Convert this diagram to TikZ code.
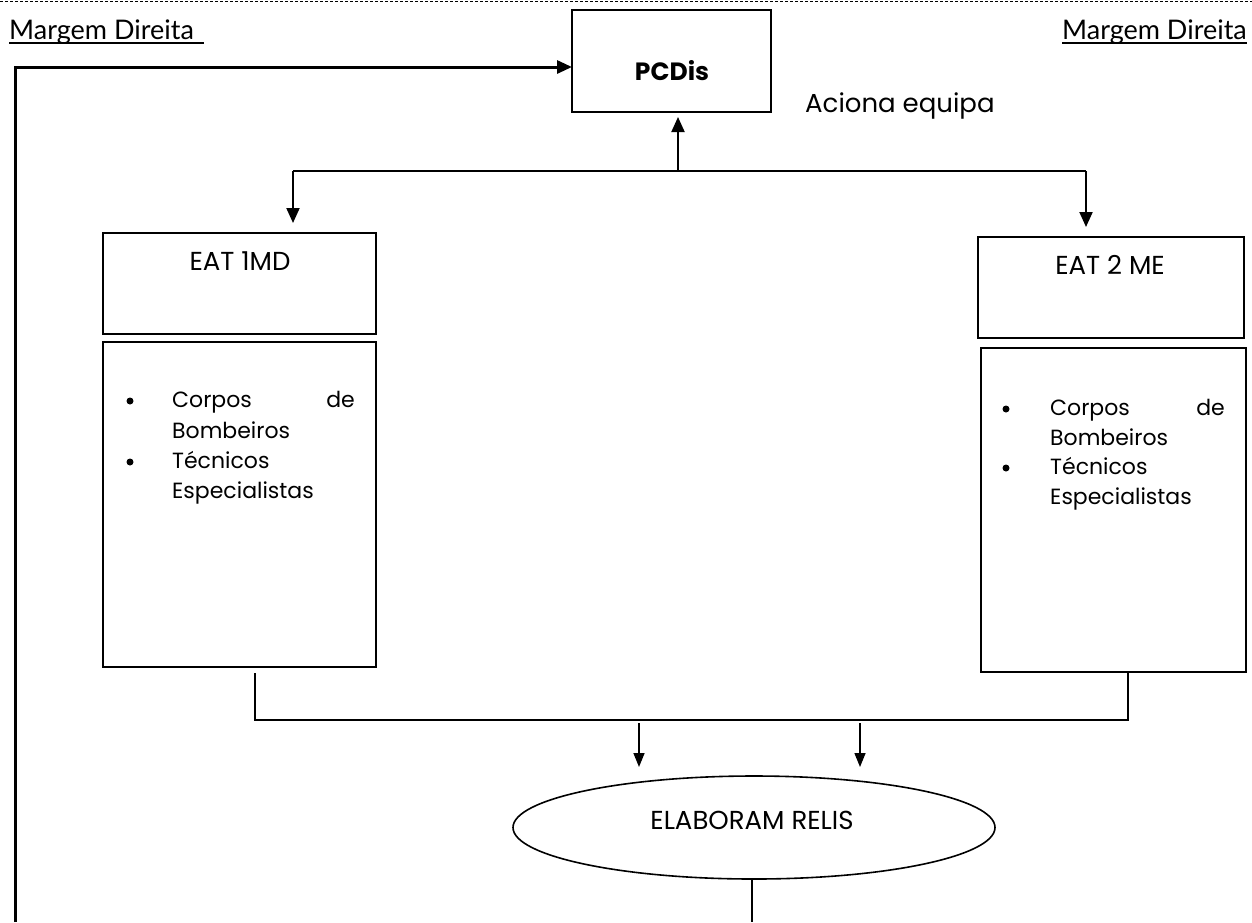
\documentclass[tikz,border=0pt]{standalone}
\usepackage{fontspec}
\setmainfont{Poppins}
\newfontfamily\gillfont{Lato}
\usetikzlibrary{arrows.meta,shapes.geometric}
\tikzset{
  boxnode/.style={draw, line width=1.6pt, rectangle, inner sep=0pt, outer sep=0pt},
  arr/.style={line width=2pt, -{Triangle[length=15pt,width=13pt]}},
  thinline/.style={line width=1.1pt},
  midline/.style={line width=1.6pt},
  bul/.style={circle, fill=black, inner sep=0pt, minimum size=7pt},
  lbl/.style={inner sep=0pt, font=\fontsize{26}{30}\selectfont},
  itm/.style={inner sep=0pt, font=\fontsize{22}{26}\selectfont},
  marg/.style={inner sep=0pt, font=\gillfont\fontsize{27}{30}\selectfont}
}
\begin{document}
\begin{tikzpicture}[x=1pt,y=-1pt]
\useasboundingbox (0,0) rectangle (1252,922);
% top dashed border
\coordinate (dl) at (0,1.5);
\coordinate (dr) at (1252,1.5);
\draw[line width=0.8pt, dash pattern=on 3pt off 2pt] (dl) -- (dr);

% margin labels
\node[marg, anchor=base west] (ml) at (9,39) {Margem Direita};
\node[marg, anchor=base east] (mr) at (1247,39) {Margem Direita};
\coordinate (ml1) at (9,43); \coordinate (ml2) at (204,43);
\coordinate (mr1) at (1062,43); \coordinate (mr2) at (1247,43);
\draw[line width=1.6pt] (ml1) -- (ml2);
\draw[line width=1.6pt] (mr1) -- (mr2);

% PCDis
\node[boxnode, minimum width=199pt, minimum height=102pt] (pcdis) at (671.5,61) {};
\node[lbl, anchor=base, font=\fontsize{25}{30}\selectfont\bfseries] (pcdist) at (672,80) {PCDis};
\node[lbl, anchor=base west] (aciona) at (805,112) {Aciona equipa};

% EAT boxes
\node[boxnode, minimum width=273pt, minimum height=101pt] (eat1) at (239.5,283.5) {};
\node[lbl, anchor=base] (eat1t) at (240,270) {EAT 1MD};
\node[boxnode, minimum width=273pt, minimum height=325pt] (list1) at (239.5,504.5) {};
\node[boxnode, minimum width=266pt, minimum height=101pt] (eat2) at (1111,287.5) {};
\node[lbl, anchor=base] (eat2t) at (1110,274) {EAT 2 ME};
\node[boxnode, minimum width=265pt, minimum height=324pt] (list2) at (1113.5,510) {};

% list 1
\node[bul] (b11) at (130,401) {};
\node[itm, anchor=base west] (c1) at (172,407) {Corpos};
\node[itm, anchor=base east] (d1) at (355,407) {de};
\node[itm, anchor=base west] (bo1) at (172,438) {Bombeiros};
\node[bul] (b12) at (130,462) {};
\node[itm, anchor=base west] (t1) at (172,468) {Técnicos};
\node[itm, anchor=base west] (e1) at (172,498) {Especialistas};

% list 2
\node[bul] (b21) at (1006,409) {};
\node[itm, anchor=base west] (c2) at (1050,415) {Corpos};
\node[itm, anchor=base east] (d2) at (1225,415) {de};
\node[itm, anchor=base west] (bo2) at (1050,445) {Bombeiros};
\node[bul] (b22) at (1006,468) {};
\node[itm, anchor=base west] (t2) at (1050,474) {Técnicos};
\node[itm, anchor=base west] (e2) at (1050,504) {Especialistas};

% ellipse
\node[draw, ellipse, line width=1.6pt, minimum width=482pt, minimum height=103pt, inner sep=0pt] (relis) at (754,827.5) {};
\node[lbl, anchor=base] (relist) at (752,829) {ELABORAM RELIS};

% feedback line
\coordinate (fb0) at (15,922);
\coordinate (fbin) at (572,67);
\draw[line width=3pt, -{Triangle[length=15pt,width=13pt]}] (fb0) |- (fbin);

% top distribution
\coordinate (tl) at (293,171);
\coordinate (tr) at (1086,171);
\coordinate (tm) at (678,171);
\coordinate (tmtip) at (678,117);
\coordinate (tltip) at (293,223);
\coordinate (trtip) at (1086,227);
\draw[midline] (tl) -- (tr);
\draw[arr] (tm) -- (tmtip);
\draw[arr] (tl) -- (tltip);
\draw[arr] (tr) -- (trtip);

% bottom collection
\coordinate (bl0) at (255,673);
\coordinate (bl1) at (255,720);
\coordinate (br0) at (1128,672);
\coordinate (br1) at (1128,720);
\draw[thinline] (bl0) -- (bl1) -- (br1) -- (br0);
\coordinate (a1s) at (639,723);
\coordinate (a1e) at (639,767);
\coordinate (a2s) at (860,723);
\coordinate (a2e) at (860,767);
\draw[line width=1.5pt, -{Triangle[length=14pt,width=11pt]}] (a1s) -- (a1e);
\draw[line width=1.5pt, -{Triangle[length=14pt,width=11pt]}] (a2s) -- (a2e);

% line from ellipse down
\coordinate (rb) at (752,922);
\draw[thinline] (relis.south -| rb) -- (rb);
\end{tikzpicture}
\end{document}
